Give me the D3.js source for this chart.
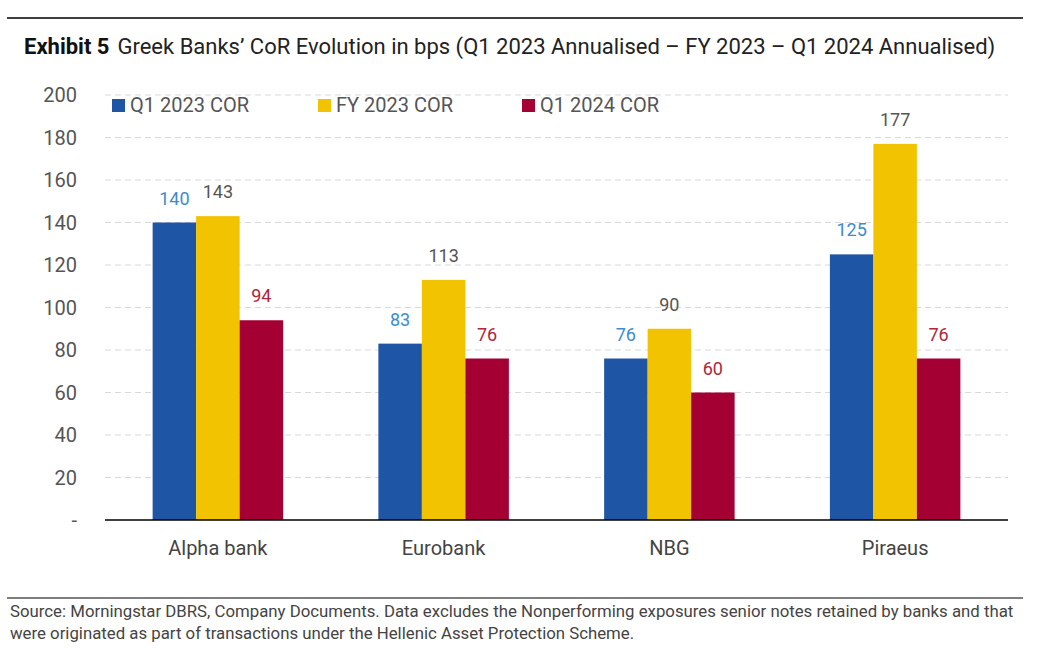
<!DOCTYPE html>
<html>
<head>
<meta charset="utf-8">
<script src="https://cdn.jsdelivr.net/npm/d3@7"></script>
<style>
  body { margin: 0; background: #fff; }
  svg { font-family: Roboto, "Noto Sans", sans-serif; }
</style>
</head>
<body>
<svg id="chart" width="1047" height="660"></svg>
<script>
// data
const banks = ['Alpha bank', 'Eurobank', 'NBG', 'Piraeus'];
const seriesNames = ['Q1 2023 COR', 'FY 2023 COR', 'Q1 2024 COR'];
const q1_2023 = [140, 83, 76, 125];
const fy_2023 = [143, 113, 90, 177];
const q1_2024 = [94, 76, 60, 76];
const yTicks = [0, 20, 40, 60, 80, 100, 120, 140, 160, 180, 200];

const barColors = ['#1f55a5', '#f2c300', '#a50034'];
const labelColors = ['#3d8ccc', '#555555', '#b0253a'];

const svg = d3.select('#chart');
// plot area in page coordinates
const plot = { left: 105, right: 1008, top: 95, bottom: 520 };

// rules top and bottom
svg.append('line').attr('x1', 7).attr('x2', 1023).attr('y1', 18).attr('y2', 18)
  .attr('stroke', '#000').attr('stroke-width', 1.5);
svg.append('line').attr('x1', 7).attr('x2', 1023).attr('y1', 598).attr('y2', 598)
  .attr('stroke', '#000').attr('stroke-width', 1.2);

// title
const title = svg.append('text').attr('x', 24).attr('y', 54)
  .attr('font-size', 22).attr('fill', '#111');
title.append('tspan').attr('font-weight', 'bold').text('Exhibit 5');
title.append('tspan').attr('dx', 8).attr('fill', '#222')
  .text('Greek Banks\u2019 CoR Evolution in bps (Q1 2023 Annualised \u2013 FY 2023 \u2013 Q1 2024 Annualised)');

const x = d3.scaleBand().domain(banks).range([plot.left, plot.right]).padding(0);
const x1 = d3.scaleBand().domain(seriesNames)
  .range([0, x.bandwidth() * 0.578]).padding(0);
const y = d3.scaleLinear().domain([0, 200]).range([plot.bottom, plot.top]);

// grid
svg.append('g')
  .selectAll('line')
  .data(yTicks.filter(d => d > 0))
  .enter().append('line')
  .attr('x1', plot.left).attr('x2', plot.right)
  .attr('y1', d => y(d)).attr('y2', d => y(d))
  .attr('stroke', '#d9d9d9').attr('stroke-width', 1.2)
  .attr('stroke-dasharray', '6,4');

// y tick labels
svg.append('g')
  .selectAll('text')
  .data(yTicks)
  .enter().append('text')
  .attr('x', plot.left - 28)
  .attr('y', d => y(d) + 7)
  .attr('text-anchor', 'end')
  .attr('font-size', 20)
  .attr('fill', '#555')
  .text(d => d === 0 ? '-' : d);

// flatten to one row per bar
const allSeries = [q1_2023, fy_2023, q1_2024];
const groupOffset = (x.bandwidth() - x1.range()[1]) / 2;
const bars = [];
allSeries.forEach((vals, si) => {
  vals.forEach((v, i) => bars.push({ bank: banks[i], series: seriesNames[si], si: si, value: v }));
});
const barX = d => x(d.bank) + groupOffset + x1(d.series);

svg.append('g').selectAll('rect')
  .data(bars)
  .enter().append('rect')
  .attr('x', barX)
  .attr('y', d => y(d.value))
  .attr('width', x1.bandwidth())
  .attr('height', d => y(0) - y(d.value))
  .attr('fill', d => barColors[d.si]);

// value labels
svg.append('g').selectAll('text')
  .data(bars)
  .enter().append('text')
  .attr('x', d => barX(d) + x1.bandwidth() / 2)
  .attr('y', d => y(d.value) - 18)
  .attr('text-anchor', 'middle')
  .attr('font-size', 18)
  .attr('fill', d => labelColors[d.si])
  .text(d => d.value);

// x axis
svg.append('line')
  .attr('x1', plot.left).attr('x2', plot.right)
  .attr('y1', y(0)).attr('y2', y(0))
  .attr('stroke', '#000').attr('stroke-width', 1.5);
svg.append('g')
  .selectAll('text')
  .data(banks)
  .enter().append('text')
  .attr('x', d => x(d) + x.bandwidth() / 2)
  .attr('y', y(0) + 35)
  .attr('text-anchor', 'middle')
  .attr('font-size', 20)
  .attr('fill', '#444')
  .text(d => d);

// legend
const legendX = [112, 318, 522];
seriesNames.forEach((name, i) => {
  svg.append('rect').attr('x', legendX[i]).attr('y', 99)
    .attr('width', 13).attr('height', 13).attr('fill', barColors[i]);
  svg.append('text').attr('x', legendX[i] + 18).attr('y', 112)
    .attr('font-size', 20).attr('fill', '#555').text(name);
});

// source note
const note = svg.append('text').attr('y', 617)
  .attr('font-size', 16.8).attr('fill', '#444');
note.append('tspan').attr('x', 10)
  .text('Source: Morningstar DBRS, Company Documents. Data excludes the Nonperforming exposures senior notes retained by banks and that');
note.append('tspan').attr('x', 10).attr('dy', 22)
  .text('were originated as part of transactions under the Hellenic Asset Protection Scheme.');
</script>
</body>
</html>
